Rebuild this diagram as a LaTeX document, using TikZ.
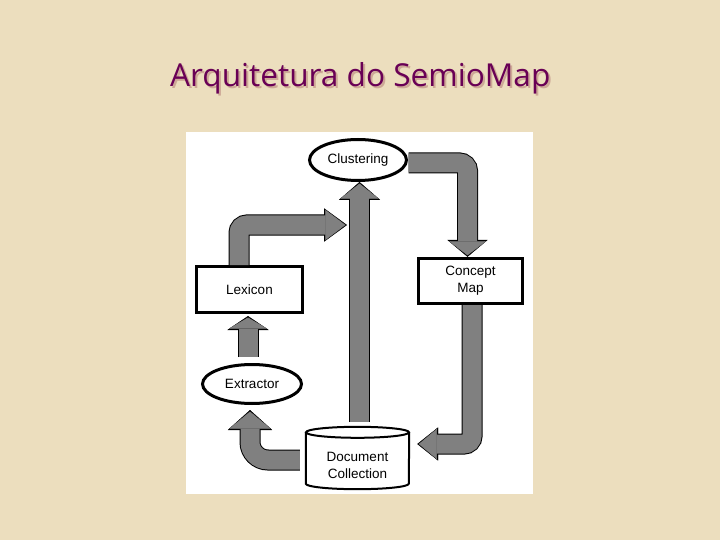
\documentclass[tikz,border=0pt]{standalone}
\usepackage{fontspec}
\setmainfont{Liberation Sans}
\newfontfamily\titlefont{Open Sans}
\usepackage{tikz}
\usetikzlibrary{arrows.meta,calc,shapes.geometric}
\definecolor{parchment}{RGB}{236,222,190}
\definecolor{titleplum}{RGB}{105,0,85}
\definecolor{titleshade}{RGB}{205,168,150}
\definecolor{flowgray}{RGB}{128,128,128}
\newcommand{\shadedtitle}[1]{\rlap{\kern2pt\raisebox{-2pt}{\textcolor{titleshade}{#1}}}\textcolor{titleplum}{#1}}
\tikzset{
  procbox/.style={ellipse, draw, line width=3pt, fill=white, inner sep=0pt,
    font=\fontsize{13.5}{17}\selectfont},
  databox/.style={rectangle, draw, line width=3pt, fill=white, inner sep=0pt,
    align=center, font=\fontsize{13.5}{17}\selectfont},
  docline/.style={line width=2pt, fill=white},
  flowarrow/.style 2 args={draw=flowgray, line width=19pt, rounded corners=8pt,
    -{Triangle[length=#2, width=#1, line width=0.4pt, fill=flowgray]}, shorten >=1.6pt,
    preaction={draw=black, line width=21pt, shorten >=0pt,
      -{Triangle[length=#2+3pt, width=#1+3.4pt, line width=0.4pt, fill=black]}}},
  slidetitle/.style={anchor=base west, inner sep=0pt, font=\titlefont\fontsize{31.6}{36}\selectfont},
}

\begin{document}
\begin{tikzpicture}[x=1pt, y=-1pt]
  \useasboundingbox (0,0) rectangle (720,540);
  \fill[parchment] (0,0) rectangle (720,540);
  % title
  \node[slidetitle] (title) at (170,87) {\shadedtitle{Arquitetura do SemioMap}};
  % panel
  \fill[white] (186,132) rectangle (533,494);
  % components
  \node[procbox, minimum width=97pt, minimum height=41pt] (clus) at (358,160) {Clustering};
  \node[databox, minimum width=106pt, minimum height=46pt] (lex) at (249.5,289.5) {Lexicon};
  \node[databox, minimum width=104.6pt, minimum height=45.3pt] (cmap) at (470.5,281) {Concept\\Map};
  \node[procbox, minimum width=99pt, minimum height=39pt] (extr) at (252,384) {Extractor};
  \node[minimum width=103pt, minimum height=62pt, inner sep=0pt] (doc) at (357.5,458) {};
  \draw[docline] ($(doc.north west)+(0,5.5)$) -- ($(doc.south west)+(0,-5.5)$)
    arc[start angle=180, end angle=360, x radius=51.5pt, y radius=5.5pt]
    -- ($(doc.north east)+(0,5.5)$);
  \draw[docline] ($(doc.north)+(0,5.5)$) ellipse[x radius=51.5pt, y radius=5.5pt];
  \node[align=center, inner sep=0pt, font=\fontsize{13.5}{17}\selectfont] (doctext)
    at ($(doc.center)+(0,7)$) {Document\\Collection};
  % flows
  \coordinate (lexin) at (347,225);
  \draw[flowarrow={37pt}{14pt}] ($(clus.east)+(0.5,3)$) -| ($(cmap.north)+(-3,0)$);
  \draw[flowarrow={30pt}{18pt}] ($(cmap.south)+(1.5,0)$) |- ($(doc.east)+(8,-14)$);
  \draw[flowarrow={30pt}{20pt}] ($(lex.north)+(-10.5,0)$) |- (lexin);
  \draw[flowarrow={38pt}{15pt}] ($(doc.north)+(2,-5)$) -- ($(clus.south)+(1.5,0)$);
  \draw[flowarrow={38pt}{11pt}] ($(extr.north)+(-4,-6)$) -- ($(lex.south)+(-1.5,2)$);
  \draw[flowarrow={41pt}{17pt}, rounded corners=18pt] ($(doc.west)+(-6,2)$) -| ($(extr.south)+(-2,5)$);
\end{tikzpicture}
\end{document}
